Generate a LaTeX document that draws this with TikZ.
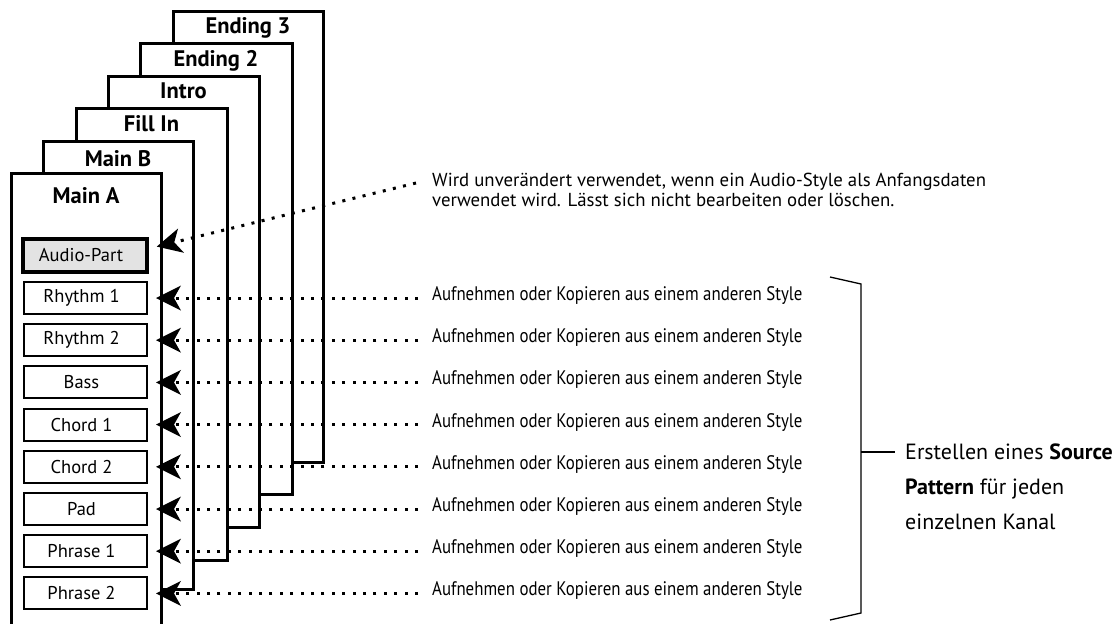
\documentclass[tikz,border=0pt]{standalone}
\usepackage{fontspec}
\setmainfont{PT Sans}
\newfontfamily\condfont[FakeStretch=0.86]{PT Sans}
\usetikzlibrary{arrows.meta}
\begin{document}
\begin{tikzpicture}[x=1pt,y=-1pt,
  panel/.style={draw, line width=3pt, fill=white},
  ptitle/.style={font=\fontsize{22.5}{26}\selectfont\bfseries, inner sep=0pt, anchor=base},
  chbox/.style={draw, line width=2pt, fill=white, minimum width=123pt, minimum height=32pt, inner sep=0pt, font=\fontsize{18.5}{22}\selectfont, execute at end node=\kern8pt},
  audiobox/.style={chbox, line width=4pt, fill=black!11, minimum width=124pt, minimum height=33pt},
  conn/.style={line width=3pt, dash pattern=on 3pt off 7.4pt, -{Stealth[length=25pt,width=25pt,inset=7pt,line width=0pt]}, shorten >=8pt},
  note/.style={font=\condfont\fontsize{19.6}{22}\selectfont, inner sep=0pt, anchor=mid west},
  topnote/.style={font=\fontsize{18.8}{20}\selectfont, inner sep=0pt, align=left, anchor=base west},
  sidenote/.style={font=\fontsize{22}{35}\selectfont, inner sep=0pt, align=left, anchor=base west},
  bracket/.style={line width=1.3pt}
]
\useasboundingbox (0,0) rectangle (1120,624);
% panels, back to front
\draw[panel] (173,11) rectangle (323,462);
\node[ptitle] (e3) at (248,33) {Ending 3};
\draw[panel] (140,43) rectangle (292,494);
\node[ptitle] (e2) at (216,66) {Ending 2};
\draw[panel] (108,76) rectangle (259,527);
\node[ptitle] (in) at (183.5,98) {Intro};
\draw[panel] (76,108) rectangle (227,560);
\node[ptitle] (fi) at (151.5,131) {Fill In};
\draw[panel] (43,141) rectangle (193,589);
\node[ptitle] (mb) at (118,166) {Main B};
\draw[panel] (11,173) rectangle (161,627);
\node[ptitle] (ma) at (86,203) {Main A};
% channel boxes
\node[audiobox] (ap) at (85,255.5) {Audio-Part};
\foreach \i/\t [count=\k from 0] in {r1/Rhythm 1, r2/Rhythm 2, ba/Bass, c1/Chord 1, c2/Chord 2, pa/Pad, p1/Phrase 1, p2/Phrase 2}{
  \node[chbox] (\i) at (85.5,298+42.2*\k) {\t};
  \node[note] (n\i) at (432,298+42.2*\k) {Aufnehmen oder Kopieren aus einem anderen Style};
  \draw[conn, shorten <=14pt] (n\i.mid west) -- (\i.east);
}
% audio note
\node[topnote] (an) at (432,206) {Wird unver\"andert verwendet, wenn ein Audio-Style als Anfangsdaten\\verwendet wird. L\"asst sich nicht bearbeiten oder l\"oschen.};
\coordinate (a0) at (416,183);
\draw[conn] (a0) -- ([yshift=7pt]ap.east);
% bracket
\coordinate (b1) at (830,277);
\coordinate (b2) at (861,284);
\coordinate (b3) at (861,613);
\coordinate (b4) at (830,620);
\coordinate (bm) at (861,452);
\node[sidenote] (sn) at (905,529) {Erstellen eines \textbf{Source}\\\textbf{Pattern} f\"ur jeden\\einzelnen Kanal};
\draw[bracket] (b1) -- (b2) -- (b3) -- (b4);
\draw[bracket] (bm) -- (895,452);
\end{tikzpicture}
\end{document}
